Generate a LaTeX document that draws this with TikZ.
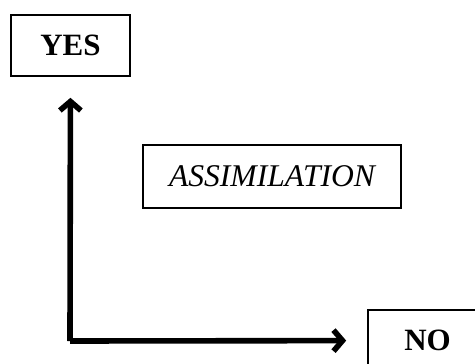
\documentclass[tikz,border=0pt]{standalone}
\usepackage{fontspec}
\setmainfont{Liberation Serif}
\usepackage{tikz}
\usetikzlibrary{arrows.meta,positioning}
\tikzset{answerbox/.style={draw,line width=0.8pt,minimum width=59.5pt,minimum height=30.5pt,font=\fontsize{15.5}{18}\selectfont\bfseries},
  termbox/.style={draw,line width=1pt,minimum width=129pt,minimum height=31.5pt,font=\fontsize{15.8}{18}\selectfont\itshape},
  axis/.style={line width=2.8pt,shorten >=10.5pt}}

\begin{document}
\begin{tikzpicture}[x=0.5pt,y=-0.5pt,>={Straight Barb[length=4.5pt,width=10.5pt]}]
    \useasboundingbox (0,0) rectangle (475,363);
    \node[answerbox] (yes) at (70.5,45.5) {YES};
    \node[answerbox] (no) at (427.5,340.5) {NO};
    \node[termbox] (assim) at (272,176.5) {ASSIMILATION};
    \coordinate (corner) at (70,341);
    \draw[axis,->] (corner) -- (yes);
    \draw[axis,->] (corner) -- (no);
  \end{tikzpicture}
\end{document}
